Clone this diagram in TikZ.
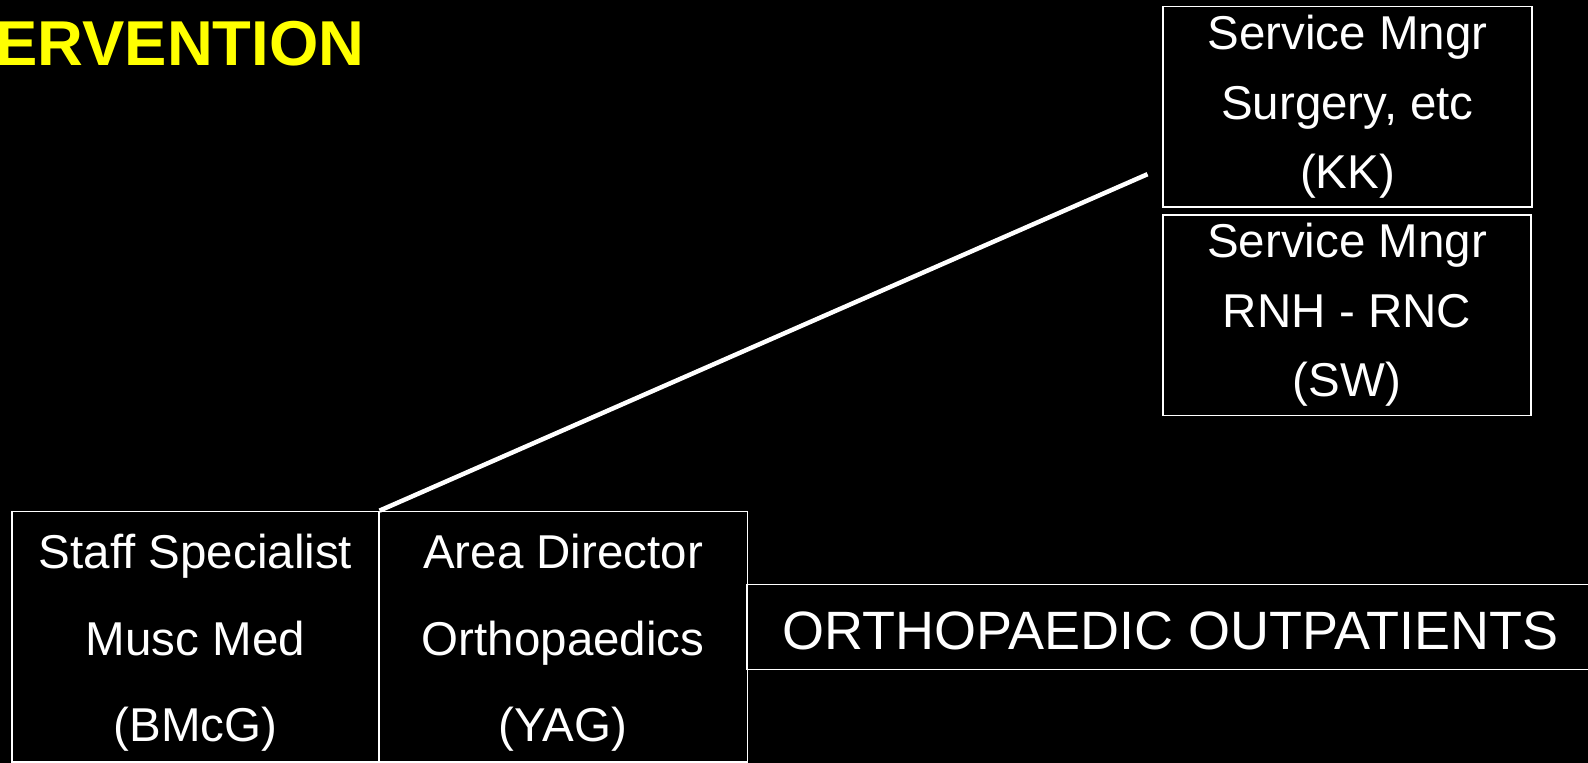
\documentclass[tikz,border=0pt]{standalone}
\usepackage{fontspec}
\setmainfont{Liberation Sans}
\begin{document}
\begin{tikzpicture}[x=1pt,y=-1pt,
  box/.style={draw=white,line width=1.5pt,fill=black,text=white,inner sep=0pt,align=center},
  txt/.style={text=white,inner sep=0pt,align=center},
  topfont/.style={font=\fontsize{47.5}{69.4}\selectfont},
  botfont/.style={font=\fontsize{47.5}{86.5}\selectfont},
  link/.style={draw=white,line width=4.5pt}]
\fill[black] (0,0) rectangle (1588,763);
\useasboundingbox (0,0) rectangle (1588,763);
\node[anchor=base west,inner sep=0pt,text={rgb,255:red,255;green,255;blue,0},font=\fontsize{63.4}{70}\selectfont\bfseries] (title) at (-4.6,65.5) {ERVENTION};
\node[box,topfont,minimum width=369pt,minimum height=200.5pt] (sm1) at (1347.5,106.75) {Service Mngr\\Surgery, etc\\(KK)};
\node[box,topfont,minimum width=368pt,minimum height=200.5pt] (sm2) at (1347,315) {Service Mngr\\RNH - RNC\\(SW)};
\node[box,minimum width=366.6pt,minimum height=250.6pt] (staff) at (195.5,636.7) {};
\node[box,minimum width=368.6pt,minimum height=250.6pt] (area) at (563.1,636.7) {};
\node[txt,botfont] (stafftext) at (195.5,642.7) {Staff Specialist\\Musc Med\\(BMcG)};
\node[txt,botfont] (areatext) at (563.1,642.7) {Area Director\\Orthopaedics\\(YAG)};
\node[box,minimum width=853pt,minimum height=85pt] (ortho) at (1173.5,627) {};
\node[txt,anchor=base,font=\fontsize{54}{60}\selectfont] (orthotext) at (1170.5,649) {ORTHOPAEDIC OUTPATIENTS};
\coordinate (lineend) at (1147.5,174.2);
\draw[link] (staff.north east) -- (lineend);
\end{tikzpicture}
\end{document}
